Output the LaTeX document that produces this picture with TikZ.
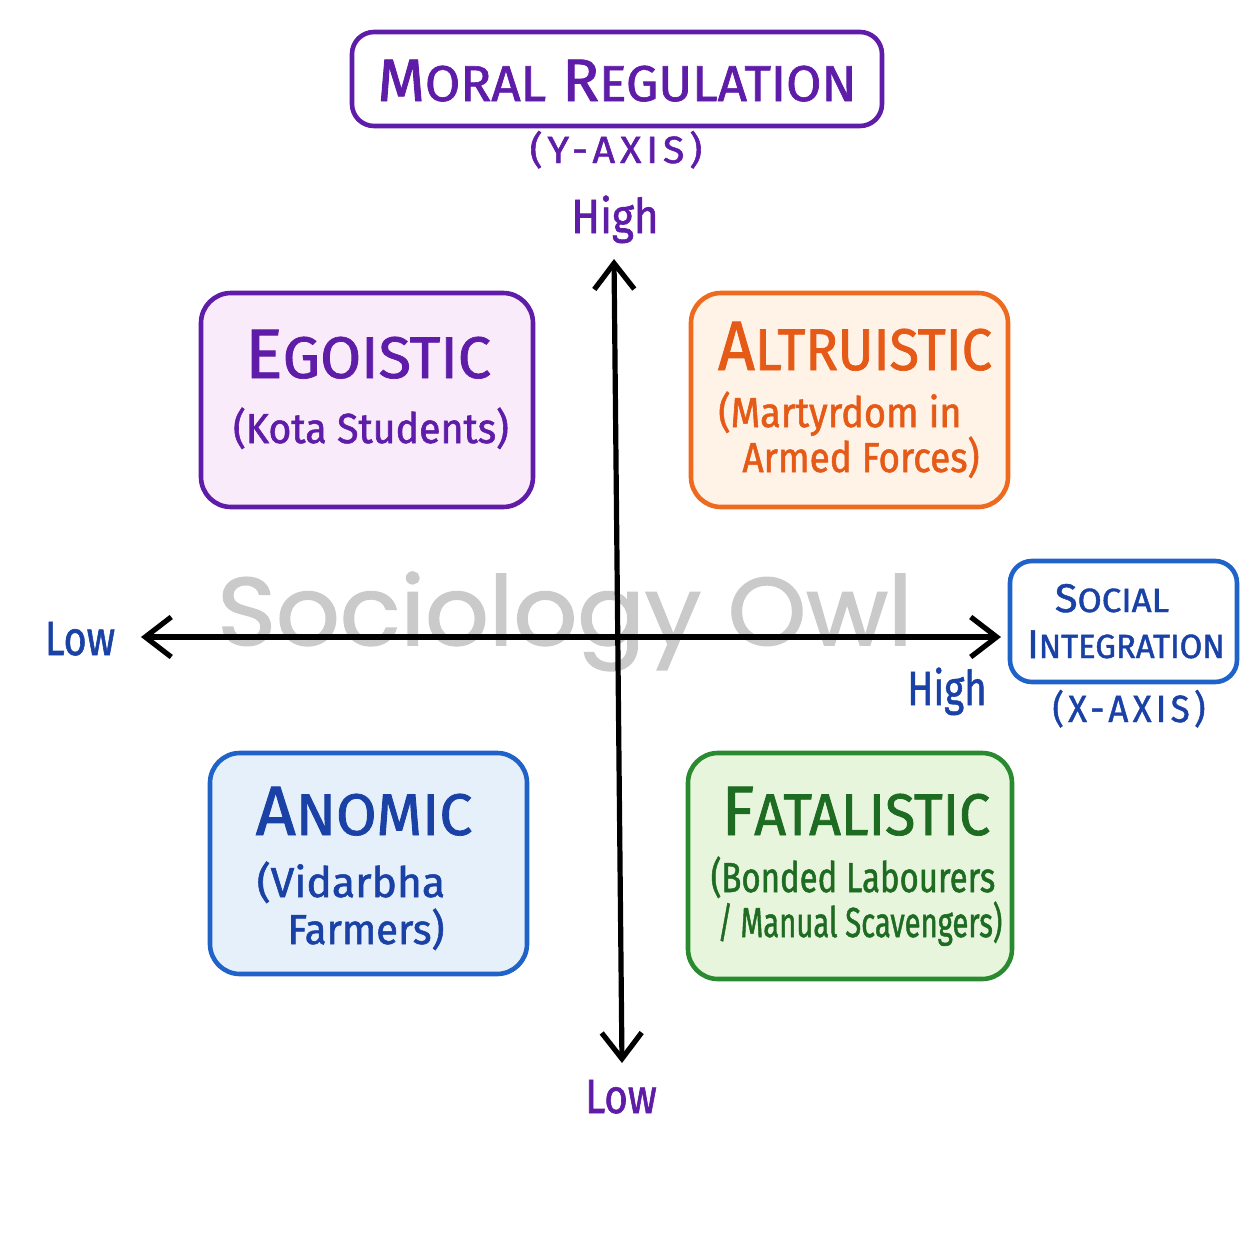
\documentclass[tikz,border=0pt]{standalone}
\usepackage{fontspec}
\usepackage{graphicx}
\setmainfont[FakeStretch=0.8,FakeBold=1.2]{Fira Sans}
\newfontfamily\wmfont[FakeBold=1.6]{Poppins}
\usetikzlibrary{arrows.meta}
\newcommand\smc[2]{#1\scalebox{0.84}{#2}}
\newcommand\hs[2]{\scalebox{#1}[1]{#2}}
\definecolor{cpurple}{HTML}{5E1CA8}
\definecolor{cpurplefill}{HTML}{F9EBFA}
\definecolor{corange}{HTML}{EE6A1E}
\definecolor{corangetext}{HTML}{E55A16}
\definecolor{corangefill}{HTML}{FFF2E6}
\definecolor{cblue}{HTML}{1F62C8}
\definecolor{cbluetext}{HTML}{1A42A6}
\definecolor{cbluefill}{HTML}{E6F0FB}
\definecolor{cgreen}{HTML}{2A8A30}
\definecolor{cgreentext}{HTML}{1E6B22}
\definecolor{cgreenfill}{HTML}{E8F5DD}
\definecolor{cwm}{HTML}{CACACA}
\begin{document}
\begin{tikzpicture}[x=0.5pt,y=-0.5pt,
  box/.style={draw, line width=2.3pt, rounded corners=15pt, inner sep=0pt},
  lbl/.style={anchor=base, inner sep=0pt},
  big/.style={lbl, font=\fontsize{35}{35}\selectfont},
  sub/.style={lbl, font=\fontsize{21}{21}\selectfont},
  axlbl/.style={lbl, font=\fontsize{24}{24}\selectfont},
  axname/.style={lbl, font=\fontsize{19}{19}\selectfont\addfontfeature{LetterSpace=10}},
  barb/.tip={Straight Barb[length=13pt,width=20pt]},
  axis/.style={line width=2.6pt, black, barb-barb}
]
\useasboundingbox (0,0) rectangle (1254,1254);
% watermark
\node[lbl, text=cwm, font=\wmfont\fontsize{48}{48}\selectfont] (wm) at (565,645) {\hs{1.04}{Sociology Owl}};
% title
\node[box, draw=cpurple, minimum width=265pt, minimum height=47pt, rounded corners=11pt] (moral) at (617,79) {};
\node[lbl, text=cpurple, font=\fontsize{30}{30}\selectfont] (moralt) at (617,101) {\hs{1.27}{\smc{M}{ORAL} \smc{R}{EGULATION}}};
\node[axname, text=cpurple] (yax) at (616,163) {\hs{1.3}{(Y-AXIS)}};
% quadrant boxes
\node[box, draw=cpurple, fill=cpurplefill, minimum width=166pt, minimum height=107pt] (ego) at (367,400) {};
\node[box, draw=corange, fill=corangefill, minimum width=158.5pt, minimum height=107pt] (alt) at (849.5,400) {};
\node[box, draw=cblue, fill=cbluefill, minimum width=158.5pt, minimum height=110.5pt] (ano) at (368.5,863.5) {};
\node[box, draw=cgreen, fill=cgreenfill, minimum width=162pt, minimum height=113pt] (fat) at (850,866) {};
\node[box, draw=cblue, minimum width=113.5pt, minimum height=60.5pt, rounded corners=11pt] (soc) at (1123.5,621.5) {};
% box texts
\node[big, text=cpurple] (egot) at (368,378) {\hs{1.26}{\smc{E}{GOISTIC}}};
\node[sub, text=cpurple] (egos) at (371,443) {\hs{1.17}{(Kota Students)}};
\node[big, text=corangetext] (altt) at (855,370) {\hs{1.15}{\smc{A}{LTRUISTIC}}};
\node[sub, text=corangetext] (alts1) at (840,427) {\hs{1.13}{(Martyrdom in}};
\node[sub, text=corangetext] (alts2) at (861,472) {\hs{1.1}{Armed Forces)}};
\node[big, text=cbluetext] (anot) at (364,835) {\hs{1.25}{\smc{A}{NOMIC}}};
\node[sub, text=cbluetext] (anos1) at (351,897) {\hs{1.27}{(Vidarbha}};
\node[sub, text=cbluetext] (anos2) at (366,944) {\hs{1.19}{Farmers)}};
\node[big, text=cgreentext] (fatt) at (856,835) {\hs{1.18}{\smc{F}{ATALISTIC}}};
\node[sub, text=cgreentext] (fats1) at (853,892) {\hs{0.98}{(Bonded Labourers}};
\node[sub, text=cgreentext] (fats2) at (860,937) {\hs{0.87}{/ Manual Scavengers)}};
\node[lbl, text=cbluetext, font=\fontsize{20}{20}\selectfont] (soct1) at (1112,612) {\hs{1.3}{\smc{S}{OCIAL}}};
\node[lbl, text=cbluetext, font=\fontsize{20}{20}\selectfont] (soct2) at (1126,658) {\hs{1.22}{\smc{I}{NTEGRATION}}};
\node[axname, text=cbluetext] (xax) at (1129,722) {\hs{1.15}{(X-AXIS)}};
% axis labels
\node[axlbl, text=cpurple] (yhigh) at (615,233) {\hs{1.1}{High}};
\node[axlbl, text=cpurple] (ylow) at (621,1113) {\hs{1.05}{Low}};
\node[axlbl, text=cbluetext] (xlow) at (80,655) {\hs{1.03}{Low}};
\node[axlbl, text=cbluetext] (xhigh) at (947,705) {\hs{1.0}{High}};
% axes
\coordinate (yt) at (614,259);
\coordinate (yb) at (622,1063);
\coordinate (xl) at (141,637);
\coordinate (xr) at (1001,637);
\draw[axis] (yb) -- (yt);
\draw[axis] (xl) -- (xr);
\end{tikzpicture}
\end{document}
